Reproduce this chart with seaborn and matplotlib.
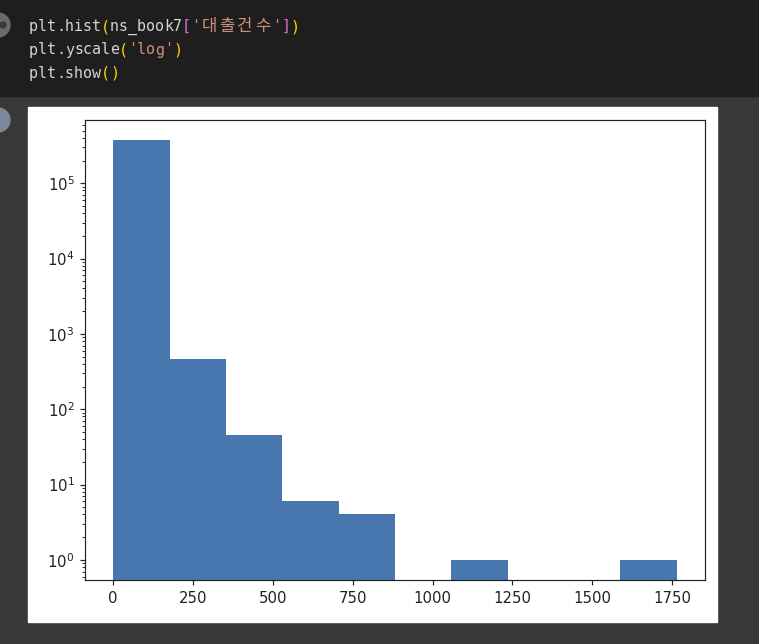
import numpy as np
import pandas as pd
import seaborn as sns
import matplotlib.pyplot as plt
from matplotlib.patches import Rectangle, Circle
from matplotlib.ticker import NullFormatter

# histogram of 대출건수 (loan counts)
bin_edges = [0, 176.5, 353, 529.5, 706, 882.5, 1059, 1235.5, 1412, 1588.5, 1765]
bin_counts = [380000, 462, 45, 6, 4, 0, 1, 0, 0, 1]
x_ticks = [0, 250, 500, 750, 1000, 1250, 1500, 1750]

# notebook code cell shown above the output
code_lines = [
    [('plt.hist', '#d4d4d4'), ('(', '#ffd700'), ('ns_book7', '#d4d4d4'), ('[', '#da70d6'),
     ("'대출건수'", '#ce9178'), (']', '#da70d6'), (')', '#ffd700')],
    [('plt.yscale', '#d4d4d4'), ('(', '#ffd700'), ("'log'", '#ce9178'), (')', '#ffd700')],
    [('plt.show', '#d4d4d4'), ('()', '#ffd700')],
]

W, H = 759, 644
fig = plt.figure(figsize=(W / 100, H / 100), dpi=100, facecolor='#383838')


def box(x0, y0, x1, y1):
    # pixel box (top-left origin) -> figure fraction rect
    return (x0 / W, 1 - y1 / H), (x1 - x0) / W, (y1 - y0) / H


# code cell background and white output area
xy, w, h = box(0, 0, W, 96)
fig.add_artist(Rectangle(xy, w, h, transform=fig.transFigure, color='#1e1e1e', zorder=0))
xy, w, h = box(28, 107, 717, 622)
fig.add_artist(Rectangle(xy, w, h, transform=fig.transFigure, color='white', zorder=0))

# the round run / output icons on the left edge
fig.add_artist(Circle((-2, H - 25), 12, transform=None, color='#6b6b6b'))
fig.add_artist(Circle((3, H - 25), 3, transform=None, color='#3a3a3a'))
fig.add_artist(Circle((-2, H - 120), 12, transform=None, color='#7c8899'))

# code text, monospace cells of 9 px (hangul takes two cells)
for i, line in enumerate(code_lines):
    x = 29
    base = 31 + i * 23.5
    for tok, col in line:
        for ch in tok:
            if ord(ch) > 0x1100:
                fig.text((x + 9) / W, 1 - base / H, ch, color=col, ha='center', va='baseline',
                         fontsize=12, family=['Noto Sans CJK KR', 'DejaVu Sans'])
                x += 18
            else:
                fig.text(x / W, 1 - base / H, ch, color=col, ha='left', va='baseline',
                         fontsize=10.8, family='DejaVu Sans Mono')
                x += 9

# the chart itself
ax = fig.add_axes([85 / W, (H - 580) / H, (705 - 85) / W, (580 - 120) / H])
ax.set_facecolor('white')

edges = np.array(bin_edges)
centers = (edges[:-1] + edges[1:]) / 2
df = pd.DataFrame({'대출건수': centers, 'count': bin_counts})

sns.histplot(data=df, x='대출건수', weights='count', bins=bin_edges, color='#4876ae',
             alpha=1, linewidth=0, ax=ax)
ax.set_yscale('log')
ax.set_ylim(0.54, 6.9e5)
ax.set_xlim(-88.25, 1853.25)
ax.set_xticks(x_ticks)
ax.yaxis.set_minor_formatter(NullFormatter())
ax.set(xlabel=None, ylabel=None)

for s in ax.spines.values():
    s.set_linewidth(0.86)
    s.set_color('#222222')
ax.tick_params(which='major', length=3.8, width=0.86, labelsize=10.75, pad=3.8, colors='#222222')
ax.tick_params(which='minor', length=2.15, width=0.65, colors='#222222')

fig.savefig('out.png', dpi=100, facecolor=fig.get_facecolor())
